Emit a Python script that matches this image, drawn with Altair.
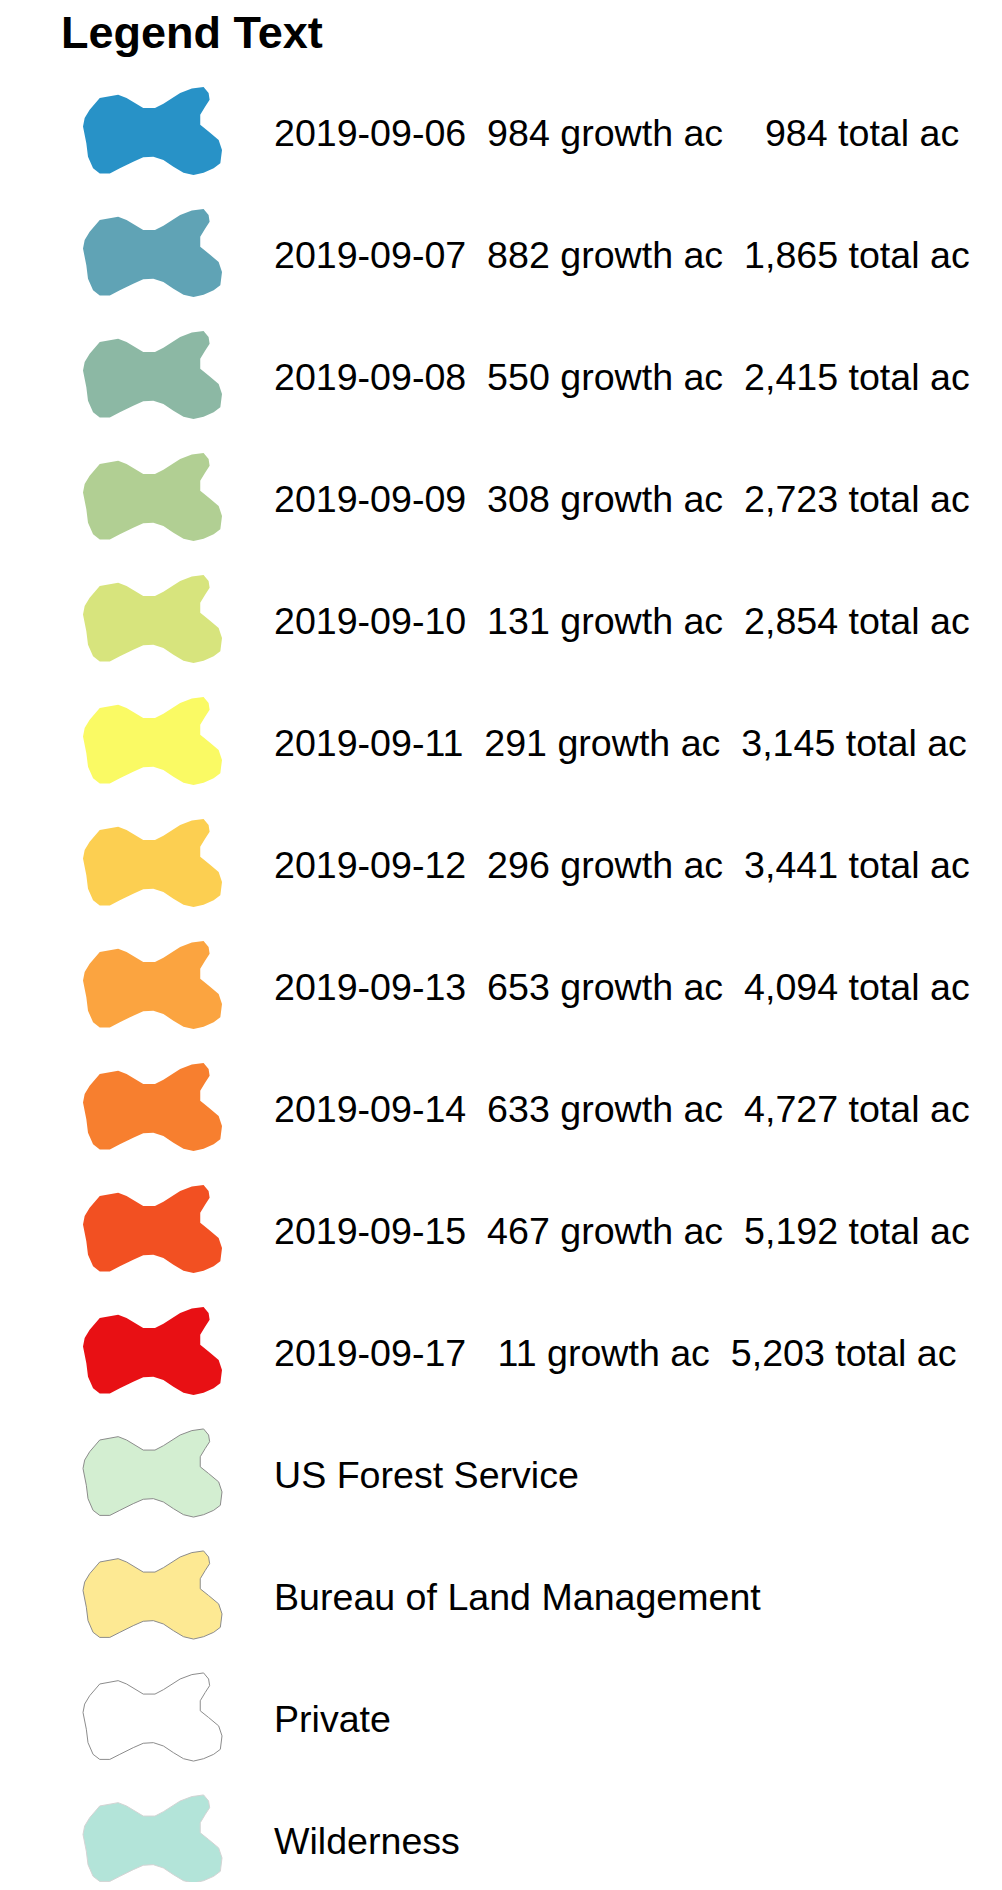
import altair as alt
import pandas as pd

title_text = "Legend Text"

dates = ["2019-09-06", "2019-09-07", "2019-09-08", "2019-09-09", "2019-09-10",
         "2019-09-11", "2019-09-12", "2019-09-13", "2019-09-14", "2019-09-15",
         "2019-09-17"]
growth_ac = [984, 882, 550, 308, 131, 291, 296, 653, 633, 467, 11]
total_ac = [984, 1865, 2415, 2723, 2854, 3145, 3441, 4094, 4727, 5192, 5203]
fire_colors = ["#2892c7", "#60a3b5", "#8cb8a4", "#b1cf93", "#d7e47d", "#fafa64",
               "#fccf51", "#fba440", "#f77f2f", "#f25022", "#e81014"]

land_labels = ["US Forest Service", "Bureau of Land Management", "Private", "Wilderness"]
land_fills = ["#d3eed1", "#fde993", "#ffffff", "#b3e4d9"]
land_strokes = ["#8c8c8c", "#8c8c8c", "#8c8c8c", "#d4d4d4"]

NBSP = "\u00a0"

labels, fills, strokes, widths = [], [], [], []
for d, g, t, c in zip(dates, growth_ac, total_ac, fire_colors):
    s = f"{d}  {g:>3} growth ac  {t:>5,} total ac"
    labels.append(s.replace(" ", NBSP))
    fills.append(c)
    strokes.append(c)
    widths.append(0)
for lab, f, s in zip(land_labels, land_fills, land_strokes):
    labels.append(lab)
    fills.append(f)
    strokes.append(s)
    widths.append(1)

df = pd.DataFrame({"label": labels, "fill": fills, "stroke": strokes, "sw": widths})

blob = ("M-0.759,-0.475 L-0.494,-0.523 L-0.373,-0.475 L-0.133,-0.330 L0.036,-0.330 "
        "L0.157,-0.393 L0.398,-0.547 L0.566,-0.610 L0.735,-0.634 L0.807,-0.547 "
        "L0.822,-0.451 L0.759,-0.354 L0.687,-0.234 L0.687,-0.089 L0.807,0.007 "
        "L0.952,0.128 L1.0,0.272 L0.976,0.465 L0.880,0.537 L0.735,0.600 L0.590,0.634 "
        "L0.446,0.600 L0.301,0.513 L0.157,0.417 L0.012,0.369 L-0.133,0.378 "
        "L-0.277,0.441 L-0.470,0.537 L-0.614,0.610 L-0.759,0.610 L-0.855,0.537 "
        "L-0.928,0.369 L-0.952,0.176 L-1.0,-0.065 L-0.976,-0.186 L-0.904,-0.306 Z")

yenc = alt.Y("label:N", sort=labels, axis=None,
             scale=alt.Scale(type="point", padding=0, range=[63, 1771]))

base = alt.Chart(df)

shapes = base.mark_point(shape=blob, filled=True, size=139 * 139, opacity=1).encode(
    x=alt.value(144.5),
    y=yenc,
    fill=alt.Fill("fill:N", scale=None),
    stroke=alt.Stroke("stroke:N", scale=None),
    strokeWidth=alt.StrokeWidth("sw:Q", scale=None),
)

texts = base.mark_text(align="left", baseline="alphabetic", fontSize=37.6,
                       font="Liberation Sans", color="black", dy=15).encode(
    x=alt.value(266),
    y=yenc,
    text="label:N",
)

chart = alt.layer(shapes, texts).properties(
    width=986,
    height=1814,
    autosize=alt.AutoSizeParams(type="none"),
    padding={"left": 0, "top": 60, "right": 0, "bottom": 0},
    title=alt.TitleParams(title_text, anchor="start", frame="group", fontSize=45,
                          font="Liberation Sans", fontWeight="bold", color="black",
                          dx=53, offset=11, baseline="top"),
).configure_view(stroke=None)

chart.save("out.html", embed_options={"renderer": "svg", "actions": False})
